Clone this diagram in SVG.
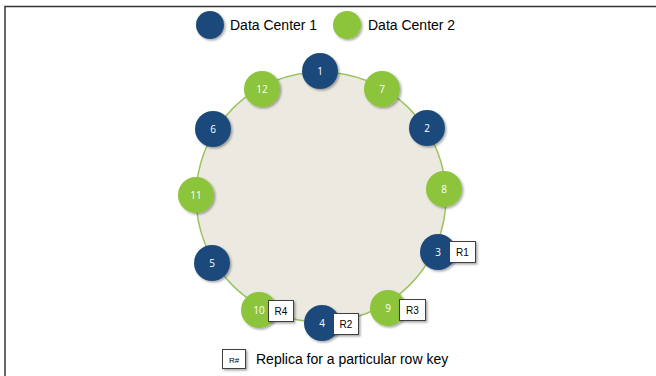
<svg xmlns="http://www.w3.org/2000/svg" width="656" height="376" viewBox="0 0 656 376">
<defs>
<filter id="sh" x="-30%" y="-30%" width="160%" height="160%">
<feDropShadow dx="1.5" dy="1.5" stdDeviation="1.2" flood-color="#000" flood-opacity="0.35"/>
</filter>
<style>
.dc1{fill:#1f4a7c;filter:url(#sh)}
.dc2{fill:#8cc43a;filter:url(#sh)}
.num{font-family:"Open Sans","Liberation Sans",sans-serif;font-size:10px;fill:#fff;text-anchor:middle}
.box{fill:#fff;stroke:#404040;stroke-width:1;filter:url(#sh)}
.bt{font-family:"Liberation Sans",Arial,sans-serif;font-size:10px;fill:#000;text-anchor:middle}
.lg{font-family:"Liberation Sans",Arial,sans-serif;font-size:14px;fill:#000}
</style>
</defs>
<rect width="656" height="376" fill="#fff"/>
<path d="M5 376 V6.5 H656" fill="none" stroke="#333" stroke-width="1.5"/>
<g id="legend">
<circle class="dc1" cx="210" cy="25" r="14"/>
<text class="lg" x="230" y="30">Data Center 1</text>
<circle class="dc2" cx="347" cy="25" r="14"/>
<text class="lg" x="368" y="30">Data Center 2</text>
<rect class="box" x="222.5" y="349.5" width="23" height="19"/>
<text class="bt" x="234" y="363" style="font-size:8px">R#</text>
<text class="lg" x="256" y="364">Replica for a particular row key</text>
</g>
<g id="ring">
<circle cx="321" cy="197" r="125" fill="#eceae0" stroke="#9bc364" stroke-width="1.5"/>
</g>
<g id="n1"><circle class="dc1" cx="320" cy="71" r="18"/><text class="num" x="320" y="75">1</text></g>
<g id="n7"><circle class="dc2" cx="382" cy="89" r="18"/><text class="num" x="382" y="93">7</text></g>
<g id="n2"><circle class="dc1" cx="427" cy="128" r="18"/><text class="num" x="427" y="132">2</text></g>
<g id="n8"><circle class="dc2" cx="444" cy="189" r="18"/><text class="num" x="444" y="193">8</text></g>
<g id="n3"><circle class="dc1" cx="438" cy="252" r="18"/><text class="num" x="438" y="256">3</text></g>
<g id="n9"><circle class="dc2" cx="388" cy="308" r="18"/><text class="num" x="388" y="312">9</text></g>
<g id="n4"><circle class="dc1" cx="322" cy="323" r="18"/><text class="num" x="322" y="327">4</text></g>
<g id="n10"><circle class="dc2" cx="259" cy="310" r="18"/><text class="num" x="259" y="314">10</text></g>
<g id="n5"><circle class="dc1" cx="212" cy="263" r="18"/><text class="num" x="212" y="267">5</text></g>
<g id="n11"><circle class="dc2" cx="196" cy="195" r="18"/><text class="num" x="196" y="199">11</text></g>
<g id="n6"><circle class="dc1" cx="213" cy="129" r="18"/><text class="num" x="213" y="133">6</text></g>
<g id="n12"><circle class="dc2" cx="262" cy="89" r="18"/><text class="num" x="262" y="93">12</text></g>
<g id="r1"><rect class="box" x="449.5" y="241.5" width="26" height="21"/><text class="bt" x="462.5" y="256">R1</text></g>
<g id="r4"><rect class="box" x="268.5" y="300.5" width="25" height="21"/><text class="bt" x="281" y="315">R4</text></g>
<g id="r2"><rect class="box" x="333.5" y="313.5" width="25" height="21"/><text class="bt" x="346" y="328">R2</text></g>
<g id="r3"><rect class="box" x="399.5" y="299.5" width="26" height="21"/><text class="bt" x="412.5" y="314">R3</text></g>
<g id="connectors"></g>
</svg>
